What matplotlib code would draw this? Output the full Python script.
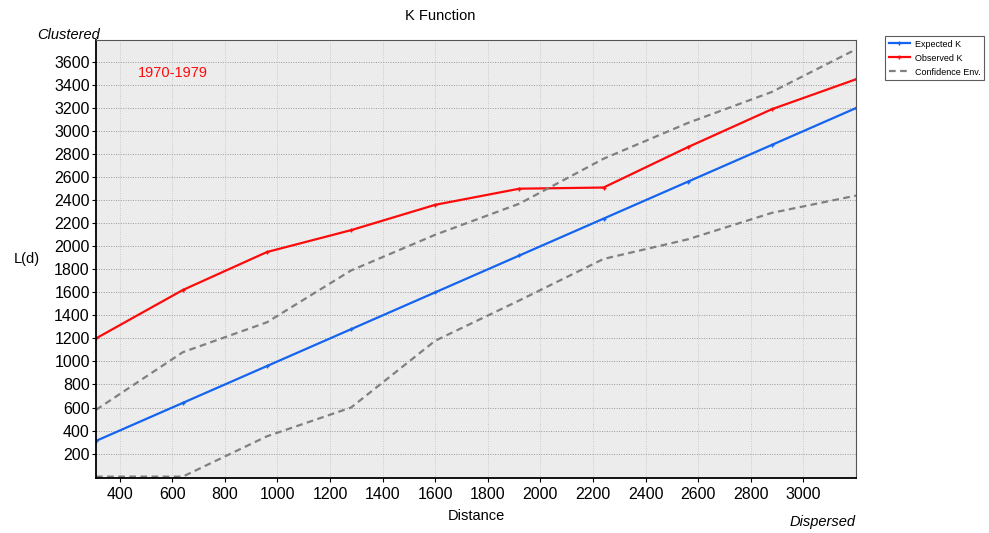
import numpy as np
import matplotlib.pyplot as plt

plt.rcParams['font.family'] = ['Liberation Sans', 'DejaVu Sans']

distance = [310, 640, 960, 1280, 1600, 1920, 2240, 2560, 2880, 3200]
expected_k = [310, 640, 960, 1280, 1600, 1920, 2240, 2560, 2880, 3200]
observed_k = [1200, 1620, 1950, 2140, 2360, 2500, 2510, 2860, 3190, 3450]
upper_env = [580, 1080, 1340, 1790, 2100, 2370, 2760, 3070, 3340, 3710]
lower_env = [0, 0, 350, 600, 1180, 1530, 1890, 2060, 2290, 2440]

fig = plt.figure(figsize=(9.89, 5.33), dpi=100)
ax = fig.add_axes([96 / 989, 1 - 478 / 533, 760 / 989, 438 / 533])
ax.set_facecolor('#ececec')

ax.plot(distance, expected_k, color='#1464f0', lw=1.6, marker='+', ms=3, label='Expected K')
ax.plot(distance, observed_k, color='#ff0a0a', lw=1.6, marker='+', ms=3, label='Observed K')
ax.plot(distance, upper_env, color='#808080', lw=1.6, ls=(0, (3, 2)), label='Confidence Env.')
ax.plot(distance, lower_env, color='#808080', lw=1.6, ls=(0, (3, 2)))

ax.set_xlim(310, 3200)
ax.set_ylim(-12, 3791)
ax.set_xticks(np.arange(400, 3001, 200))
ax.set_yticks(np.arange(200, 3601, 200))
ax.tick_params(labelsize=11.5, length=3, direction='out')
ax.tick_params(axis='y', pad=1.5)
ax.grid(True, color='#9a9a9a', ls=(0, (1, 1.5)), lw=0.7)
ax.grid(True, axis='x', color='#c8c8c8', ls=(0, (1, 1.5)), lw=0.7)
for s in ['left', 'bottom']:
    ax.spines[s].set_linewidth(1.3)
for s in ['top', 'right']:
    ax.spines[s].set_color('#555555')

ax.set_xlabel('Distance', fontsize=10.5, labelpad=5)
ax.set_ylabel('L(d)', fontsize=10.5, rotation=0, labelpad=20, va='center')
ax.text(0.055, 0.915, '1970-1979', color='#ff0a0a', fontsize=10.5, transform=ax.transAxes)

fig.text(440 / 989, 1 - 16 / 533, 'K Function', ha='center', va='center', fontsize=10.5)
fig.text(37 / 989, 1 - 35 / 533, 'Clustered', ha='left', va='center', fontsize=10.5, style='italic')
fig.text(856 / 989, 1 - 522 / 533, 'Dispersed', ha='right', va='center', fontsize=10.5, style='italic')

leg = fig.legend(loc='upper left', bbox_to_anchor=(885 / 989, 1 - 36 / 533), fontsize=6.5,
                 frameon=True, fancybox=False, edgecolor='#333333', handlelength=2.4,
                 handletextpad=0.5, borderpad=0.4, labelspacing=0.55, borderaxespad=0)
leg.get_frame().set_linewidth(0.8)

plt.savefig('out.png', dpi=100)
